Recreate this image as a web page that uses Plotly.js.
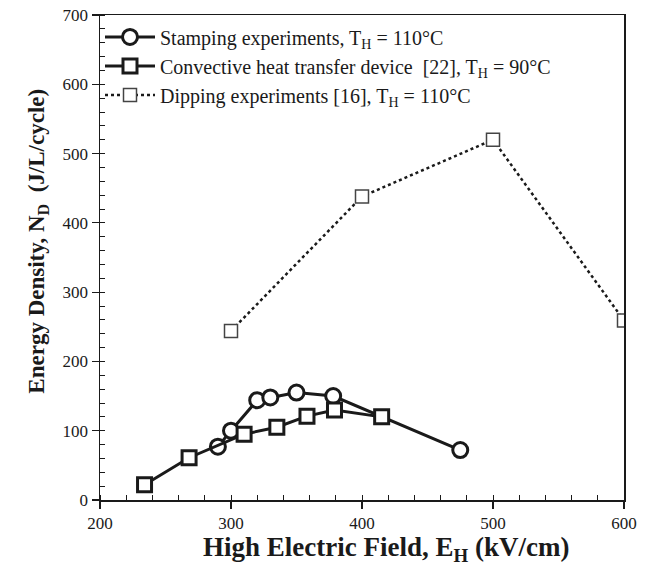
<!DOCTYPE html>
<html>
<head>
<meta charset="utf-8">
<script src="https://cdn.plot.ly/plotly-3.0.1.min.js"></script>
<style>html,body{margin:0;padding:0;background:#fff;}#chart{width:653px;height:569px;}</style>
</head>
<body>
<div id="chart"></div>
<script>
// Stamping experiments, T_H = 110°C
const stampE = [290, 300, 320, 330, 350, 378, 475];
const stampN = [77, 100, 144, 148, 155, 150, 72];
// Convective heat transfer device [22], T_H = 90°C
const convE = [234, 268, 310, 335, 358, 379, 415];
const convN = [22, 61, 95, 105, 121, 130, 120];
// Dipping experiments [16], T_H = 110°C
const dipE = [300, 400, 500, 600];
const dipN = [244, 438, 520, 259];

const names = [
  'Stamping experiments, T<sub>H</sub> = 110°C',
  'Convective heat transfer device  [22], T<sub>H</sub> = 90°C',
  'Dipping experiments [16], T<sub>H</sub> = 110°C'
];
const xTitle = '<b>High Electric Field, E<sub>H</sub> (kV/cm)</b>';
const yTitle = '<b>Energy Density, N<sub>D</sub>  (J/L/cycle)</b>';

const serif = "'Liberation Serif', 'Times New Roman', Times, serif";
const ink = '#1a1a1a';
const traces = [
  {x: stampE, y: stampN, name: names[0], mode: 'lines+markers', type: 'scatter',
   line: {color: ink, width: 3},
   marker: {symbol: 'circle', size: 15, color: '#fff', line: {color: ink, width: 3}}},
  {x: convE, y: convN, name: names[1], mode: 'lines+markers', type: 'scatter',
   line: {color: ink, width: 3},
   marker: {symbol: 'square', size: 14, color: '#fff', line: {color: ink, width: 3}}},
  {x: dipE, y: dipN, name: names[2], mode: 'lines+markers', type: 'scatter',
   line: {color: ink, width: 2.5, dash: 'dot'},
   marker: {symbol: 'square', size: 13, color: '#fff', line: {color: '#444', width: 1.5}}}
];

const layout = {
  width: 653, height: 569,
  margin: {l: 100, r: 29, t: 15, b: 69},
  paper_bgcolor: '#fff', plot_bgcolor: '#fff',
  font: {family: serif, color: ink, size: 17},
  showlegend: true,
  legend: {x: 0, y: 0.995, xanchor: 'left', yanchor: 'top', bgcolor: 'rgba(0,0,0,0)',
           font: {family: serif, size: 20}, tracegroupgap: 0, itemwidth: 50},
  xaxis: {
    range: [200, 600], dtick: 100, tick0: 200,
    showgrid: false, zeroline: false, showline: true, linecolor: ink, linewidth: 1.5,
    mirror: true, ticks: 'outside', ticklen: 7, tickwidth: 1.2, tickcolor: ink,
    minor: {dtick: 20, ticks: 'inside', ticklen: 5, tickwidth: 1, tickcolor: ink},
    tickfont: {family: serif, size: 17}
  },
  yaxis: {
    range: [0, 700], dtick: 100,
    showgrid: false, zeroline: false, showline: true, linecolor: ink, linewidth: 1.5,
    mirror: true, ticks: 'outside', ticklen: 7, tickwidth: 1.2, tickcolor: ink,
    minor: {dtick: 20, ticks: 'inside', ticklen: 5, tickwidth: 1, tickcolor: ink},
    tickfont: {family: serif, size: 17}
  },
  annotations: [
    {text: xTitle, xref: 'paper', yref: 'paper', x: 0.546, y: -0.1, xanchor: 'center', yanchor: 'middle',
     showarrow: false, font: {family: serif, size: 27, color: ink}},
    {text: yTitle, xref: 'paper', yref: 'paper', x: -0.118, y: 0.533, xanchor: 'center', yanchor: 'middle',
     textangle: -90, showarrow: false, font: {family: serif, size: 23, color: ink}}
  ]
};

Plotly.newPlot('chart', traces, layout, {displayModeBar: false, staticPlot: true});
</script>
</body>
</html>
